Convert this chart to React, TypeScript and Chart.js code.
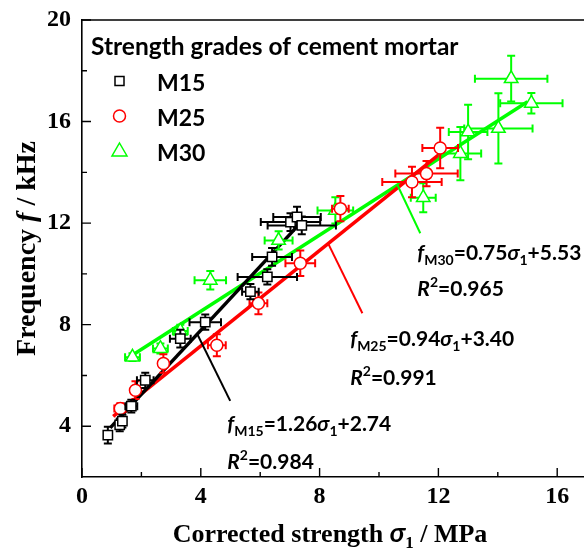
import { useEffect, useRef } from 'react';
import { Chart, registerables } from 'chart.js';

Chart.register(...registerables);

// Axis ticks
const xTicks = [0, 4, 8, 12, 16];
const yTicks = [4, 8, 12, 16, 20];
const xMinor = [2, 6, 10, 14, 18];
const yMinor = [6, 10, 14, 18];

// M15 mortar: corrected strength (MPa), frequency (kHz), and error half-widths
const m15X = [0.87, 1.27, 1.36, 1.66, 2.13, 3.31, 4.15, 5.67, 6.24, 6.4, 7.02, 7.24, 7.4];
const m15Y = [3.65, 4.05, 4.2, 4.79, 5.81, 7.45, 8.1, 9.3, 9.88, 10.67, 12.04, 12.24, 11.91];
const m15ErrX = [0.08, 0.1, 0.12, 0.2, 0.28, 0.35, 0.53, 0.28, 1.0, 0.67, 1.0, 0.8, 1.15];
const m15ErrY = [0.33, 0.25, 0.25, 0.25, 0.3, 0.35, 0.3, 0.3, 0.3, 0.35, 0.35, 0.4, 0.35];

// M25 mortar
const m25X = [1.29, 1.8, 2.74, 4.54, 5.94, 7.35, 8.7, 11.11, 11.6, 12.06];
const m25Y = [4.7, 5.42, 6.47, 7.19, 8.84, 10.42, 12.57, 13.62, 13.95, 14.96];
const m25ErrX = [0.2, 0.1, 0.15, 0.3, 0.3, 0.5, 0.28, 1.0, 1.05, 0.6];
const m25ErrY = [0.2, 0.35, 0.36, 0.43, 0.43, 0.5, 0.5, 0.6, 0.5, 0.8];

// M30 mortar
const m30X = [1.7, 2.64, 3.31, 4.32, 6.62, 8.53, 11.49, 12.74, 13.0, 14.02, 14.45, 15.13];
const m30Y = [6.72, 7.06, 7.75, 9.75, 11.32, 12.5, 13.0, 14.74, 15.59, 15.73, 17.69, 16.72];
const m30ErrX = [0.25, 0.25, 0.25, 0.53, 0.47, 0.6, 0.42, 0.7, 0.65, 1.15, 1.22, 1.05];
const m30ErrY = [0.15, 0.2, 0.25, 0.36, 0.36, 0.52, 0.57, 1.05, 1.07, 1.38, 0.9, 0.4];

// Linear fits f = slope * sigma + intercept
const fitSlope = [1.26, 0.94, 0.75];
const fitIntercept = [2.74, 3.4, 5.53];
const fitR2 = [0.984, 0.991, 0.965];
const fitFrom = [0.95, 1.05, 1.6];
const fitTo = [7.35, 12.1, 15.0];

const gradeNames = ['M15', 'M25', 'M30'];
const gradeColors = ['#000000', '#ff0000', '#00ff00'];
const gradeStyles = ['rect', 'circle', 'triangle'];

const SERIF = '"Liberation Serif", "Times New Roman", serif';
const SANS = 'Lato, "Open Sans", "DejaVu Sans", sans-serif';

type Run = { t: string; font: string; dy?: number };

function runsWidth(ctx: CanvasRenderingContext2D, runs: Run[]) {
  let w = 0;
  for (const r of runs) {
    ctx.font = r.font;
    w += ctx.measureText(r.t).width;
  }
  return w;
}

function drawRuns(ctx: CanvasRenderingContext2D, runs: Run[], x: number, y: number) {
  let cx = x;
  for (const r of runs) {
    ctx.font = r.font;
    ctx.fillText(r.t, cx, y + (r.dy || 0));
    cx += ctx.measureText(r.t).width;
  }
}

function drawMarker(ctx: CanvasRenderingContext2D, style: string, x: number, y: number, color: string) {
  ctx.save();
  ctx.strokeStyle = color;
  ctx.fillStyle = '#fff';
  ctx.lineWidth = 1.5;
  ctx.beginPath();
  if (style === 'rect') {
    ctx.rect(x - 4.5, y - 4.5, 9, 9);
  } else if (style === 'circle') {
    ctx.arc(x, y, 6, 0, Math.PI * 2);
  } else {
    ctx.moveTo(x, y - 8);
    ctx.lineTo(x + 7.5, y + 5);
    ctx.lineTo(x - 7.5, y + 5);
    ctx.closePath();
  }
  ctx.fill();
  ctx.stroke();
  ctx.restore();
}

// Error bars are drawn just before each scatter dataset's markers
const errorBarPlugin = {
  id: 'errorBars',
  beforeDatasetDraw(chart: any, args: any) {
    const ds = chart.data.datasets[args.index];
    if (!ds.errX) return;
    const { ctx } = chart;
    const xs = chart.scales.x;
    const ys = chart.scales.y;
    const cap = 4;
    ctx.save();
    ctx.strokeStyle = ds.borderColor;
    ctx.lineWidth = 2;
    ds.data.forEach((p: any, i: number) => {
      const px = xs.getPixelForValue(p.x);
      const py = ys.getPixelForValue(p.y);
      const x0 = xs.getPixelForValue(p.x - ds.errX[i]);
      const x1 = xs.getPixelForValue(p.x + ds.errX[i]);
      const y0 = ys.getPixelForValue(p.y - ds.errY[i]);
      const y1 = ys.getPixelForValue(p.y + ds.errY[i]);
      ctx.beginPath();
      ctx.moveTo(x0, py); ctx.lineTo(x1, py);
      ctx.moveTo(x0, py - cap); ctx.lineTo(x0, py + cap);
      ctx.moveTo(x1, py - cap); ctx.lineTo(x1, py + cap);
      ctx.moveTo(px, y0); ctx.lineTo(px, y1);
      ctx.moveTo(px - cap, y0); ctx.lineTo(px + cap, y0);
      ctx.moveTo(px - cap, y1); ctx.lineTo(px + cap, y1);
      ctx.stroke();
    });
    ctx.restore();
  },
};

// Leader lines from each fit line to its equation (data coordinates)
const leaders = [
  [[3.88, 7.63], [4.99, 5.0]],
  [[8.29, 11.19], [9.44, 8.45]],
  [[10.62, 13.5], [11.39, 11.6]],
];
// Equation anchors: x, baseline of the equation, baseline of R^2 (data coordinates)
const labelAnchorX = [4.89, 9.03, 11.29];
const labelEqY = [3.8, 7.15, 10.54];
const labelR2Y = [2.31, 5.61, 9.12];

const decorPlugin = {
  id: 'decor',
  afterDraw(chart: any) {
    const { ctx, chartArea: a } = chart;
    const xs = chart.scales.x;
    const ys = chart.scales.y;
    ctx.save();

    // frame top and right
    ctx.strokeStyle = '#000';
    ctx.lineWidth = 1.6;
    ctx.beginPath();
    ctx.moveTo(a.left, a.top); ctx.lineTo(a.right, a.top); ctx.lineTo(a.right, a.bottom);
    ctx.stroke();

    // inward ticks
    ctx.lineWidth = 1.4;
    ctx.beginPath();
    xTicks.forEach((v) => { const p = xs.getPixelForValue(v); ctx.moveTo(p, a.bottom); ctx.lineTo(p, a.bottom - 9); });
    xMinor.forEach((v) => { const p = xs.getPixelForValue(v); ctx.moveTo(p, a.bottom); ctx.lineTo(p, a.bottom - 5); });
    yTicks.forEach((v) => { const p = ys.getPixelForValue(v); ctx.moveTo(a.left, p); ctx.lineTo(a.left + 9, p); });
    yMinor.forEach((v) => { const p = ys.getPixelForValue(v); ctx.moveTo(a.left, p); ctx.lineTo(a.left + 5, p); });
    ctx.stroke();

    // axis titles
    ctx.fillStyle = '#000';
    ctx.textBaseline = 'alphabetic';
    ctx.textAlign = 'left';
    const xt: Run[] = [
      { t: 'Corrected strength ', font: `bold 26px ${SERIF}` },
      { t: 'σ', font: `italic bold 27px ${SANS}` },
      { t: '1', font: `bold 17px ${SERIF}`, dy: 6 },
      { t: ' / MPa', font: `bold 26px ${SERIF}` },
    ];
    const xw = runsWidth(ctx, xt);
    drawRuns(ctx, xt, 322 - xw / 2, 534);

    const yt: Run[] = [
      { t: 'Frequency ', font: `bold 28px ${SERIF}` },
      { t: 'f', font: `italic bold 28px ${SERIF}` },
      { t: ' / kHz', font: `bold 28px ${SERIF}` },
    ];
    const yw = runsWidth(ctx, yt);
    ctx.save();
    ctx.translate(27, 240.5);
    ctx.rotate(-Math.PI / 2);
    drawRuns(ctx, yt, -yw / 2, 0);
    ctx.restore();

    // legend
    const lx = a.left;
    const ly = a.top;
    ctx.font = `bold 24.5px ${SANS}`;
    ctx.fillText('Strength grades of cement mortar', lx + 9, ly + 35);
    gradeNames.forEach((name, i) => {
      const base = ly + 70.5 + i * 35;
      drawMarker(ctx, gradeStyles[i], lx + 37.5, base - 9.5, gradeColors[i]);
      ctx.fillStyle = '#000';
      ctx.font = `bold 23px ${SANS}`;
      ctx.fillText(name, lx + 75, base);
    });

    // leader lines
    ctx.lineWidth = 2;
    leaders.forEach((seg, i) => {
      ctx.strokeStyle = gradeColors[i];
      ctx.beginPath();
      ctx.moveTo(xs.getPixelForValue(seg[0][0]), ys.getPixelForValue(seg[0][1]));
      ctx.lineTo(xs.getPixelForValue(seg[1][0]), ys.getPixelForValue(seg[1][1]));
      ctx.stroke();
    });

    // fit equations
    ctx.fillStyle = '#000';
    const b = `bold 21px ${SANS}`;
    const bi = `italic bold 21px ${SANS}`;
    const sub = `bold 14px ${SANS}`;
    gradeNames.forEach((name, i) => {
      const x = xs.getPixelForValue(labelAnchorX[i]);
      const eq: Run[] = [
        { t: 'f', font: bi },
        { t: name, font: sub, dy: 5 },
        { t: `=${fitSlope[i].toFixed(2)}`, font: b },
        { t: 'σ', font: bi },
        { t: '1', font: sub, dy: 5 },
        { t: `+${fitIntercept[i].toFixed(2)}`, font: b },
      ];
      drawRuns(ctx, eq, x, ys.getPixelForValue(labelEqY[i]));
      const r2: Run[] = [
        { t: 'R', font: bi },
        { t: '2', font: sub, dy: -9 },
        { t: `=${fitR2[i].toFixed(3)}`, font: b },
      ];
      drawRuns(ctx, r2, x, ys.getPixelForValue(labelR2Y[i]));
    });

    ctx.restore();
  },
};

function pts(xs: number[], ys: number[]) {
  return xs.map((x, i) => ({ x, y: ys[i] }));
}

function fitLine(i: number) {
  return [fitFrom[i], fitTo[i]].map((x) => ({ x, y: fitSlope[i] * x + fitIntercept[i] }));
}

export default function App() {
  const ref = useRef<HTMLCanvasElement>(null);

  useEffect(() => {
    if (!ref.current) return;
    const scatter = (i: number, x: number[], y: number[], ex: number[], ey: number[], r: number) => ({
      type: 'scatter' as const,
      label: gradeNames[i],
      data: pts(x, y),
      errX: ex,
      errY: ey,
      borderColor: gradeColors[i],
      backgroundColor: '#ffffff',
      pointStyle: gradeStyles[i],
      pointRadius: r,
      pointBorderWidth: 1.5,
      order: 1,
    });
    const line = (i: number) => ({
      type: 'line' as const,
      label: `${gradeNames[i]} fit`,
      data: fitLine(i),
      borderColor: gradeColors[i],
      borderWidth: 3.5,
      pointRadius: 0,
      fill: false,
      order: 2,
    });
    const chart = new Chart(ref.current, {
      type: 'scatter',
      data: {
        datasets: [
          line(0), line(1), line(2),
          scatter(0, m15X, m15Y, m15ErrX, m15ErrY, 6.6),
          scatter(1, m25X, m25Y, m25ErrX, m25ErrY, 6),
          scatter(2, m30X, m30Y, m30ErrX, m30ErrY, 7.8),
        ] as any,
      },
      options: {
        animation: false,
        responsive: false,
        devicePixelRatio: 1,
        layout: { padding: { top: 12, right: 11.4, left: 0, bottom: 0 } },
        plugins: { legend: { display: false }, tooltip: { enabled: false } },
        scales: {
          x: {
            type: 'linear',
            min: 0,
            max: 18,
            afterBuildTicks: (s: any) => { s.ticks = xTicks.map((value) => ({ value })); },
            afterFit: (s: any) => { s.height = 72; },
            grid: { display: false, drawTicks: false },
            border: { display: true, color: '#000', width: 1.6 },
            ticks: { color: '#000', padding: 8, font: { family: SERIF, size: 24, weight: 'bold', lineHeight: 1 } },
          },
          y: {
            type: 'linear',
            min: 2,
            max: 20,
            afterBuildTicks: (s: any) => { s.ticks = yTicks.map((value) => ({ value })); },
            afterFit: (s: any) => { s.width = 74; },
            grid: { display: false, drawTicks: false },
            border: { display: true, color: '#000', width: 1.6 },
            ticks: { color: '#000', padding: 11, font: { family: SERIF, size: 24, weight: 'bold', lineHeight: 0.04 } },
          },
        },
      } as any,
      plugins: [errorBarPlugin, decorPlugin],
    });
    return () => chart.destroy();
  }, []);

  return (
    <div style={{ position: 'fixed', left: 8, top: 8, width: 576, height: 541, overflow: 'hidden' }}>
      <canvas ref={ref} width={620} height={541} style={{ display: 'block', width: 620, height: 541 }} />
    </div>
  );
}
